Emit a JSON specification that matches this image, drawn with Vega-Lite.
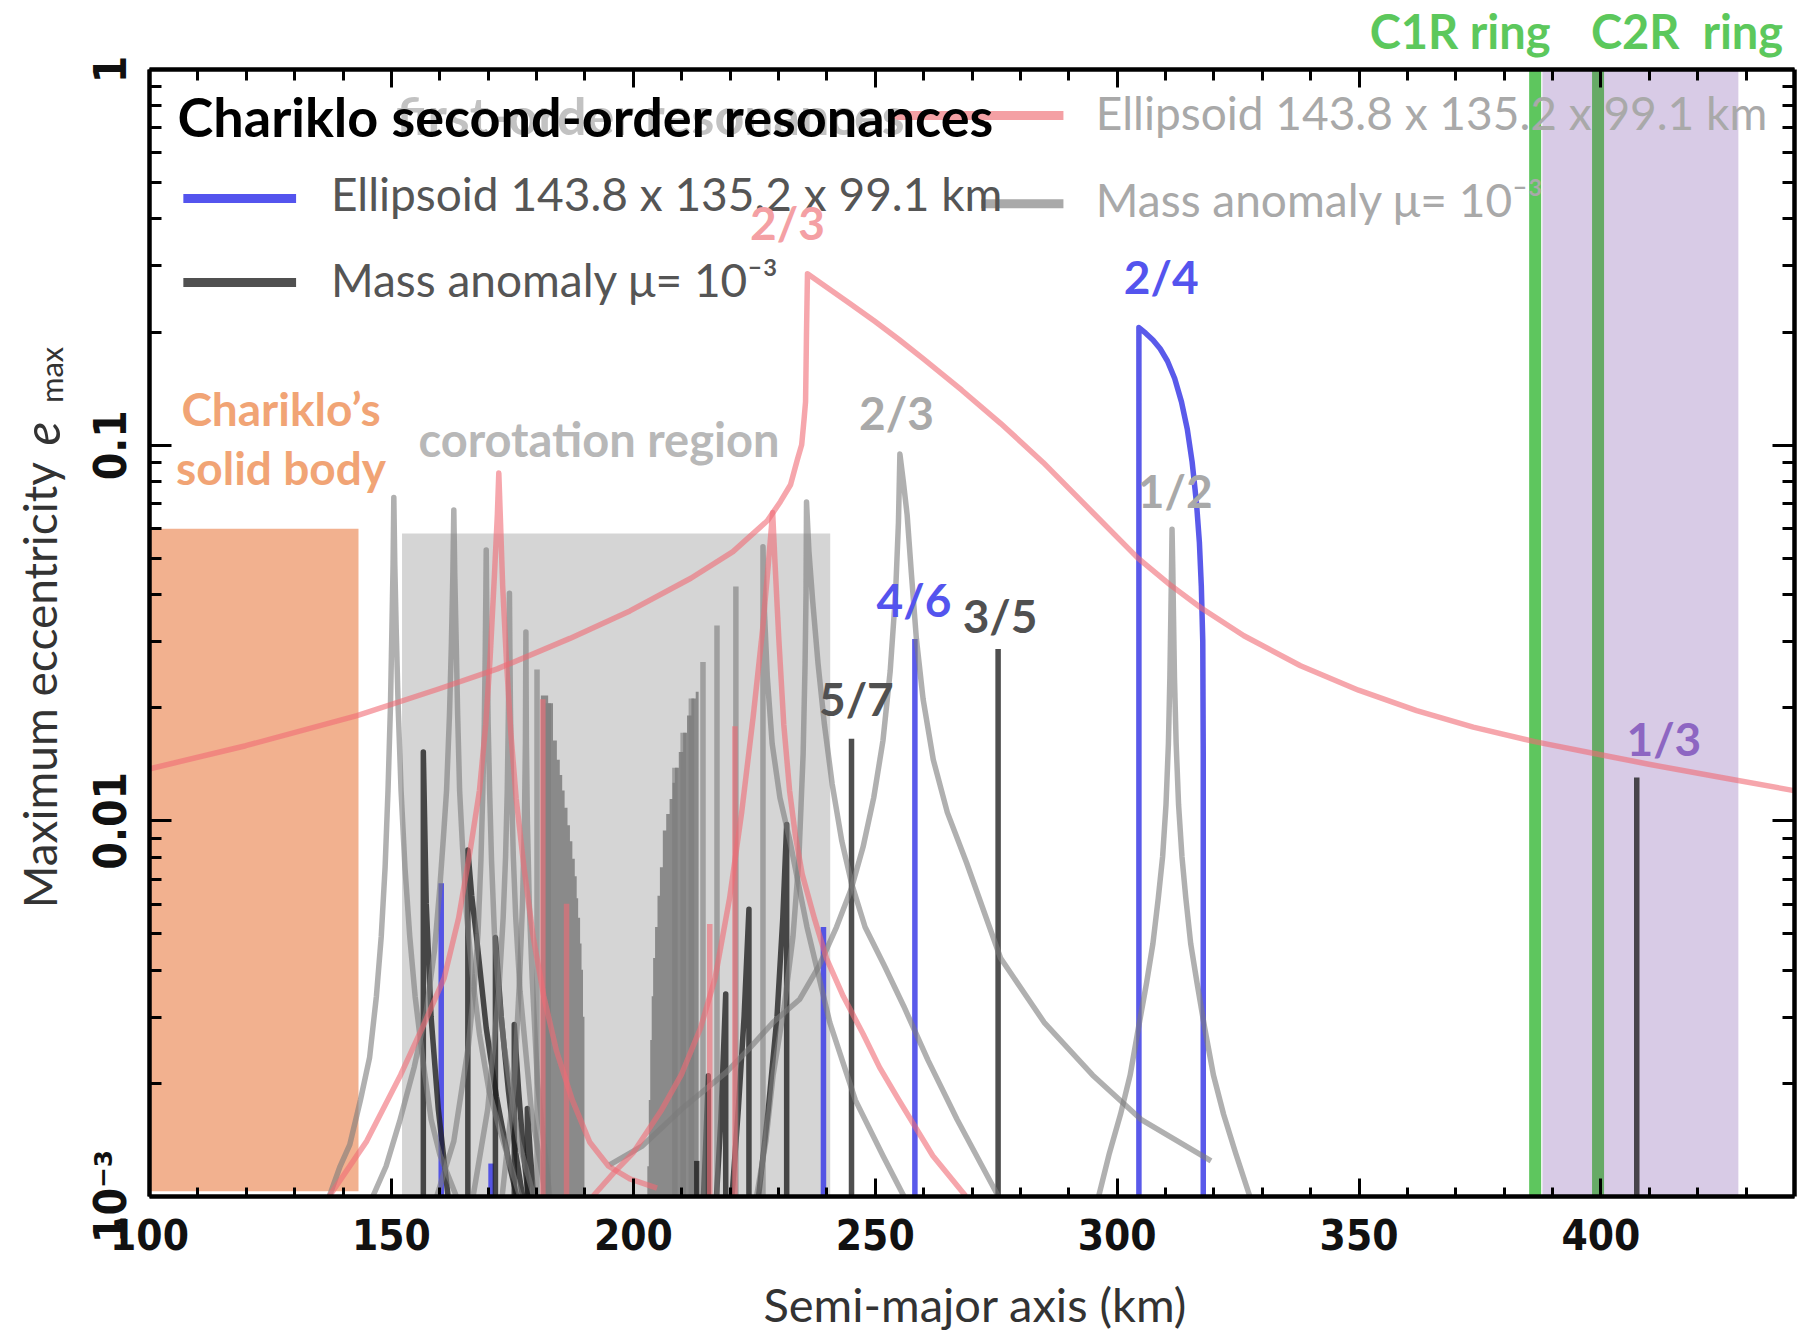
{
  "$schema": "https://vega.github.io/schema/vega-lite/v6.json",
  "width": 1645,
  "height": 1127,
  "autosize": {"type": "none"},
  "padding": {"left": 149, "top": 69, "right": 9, "bottom": 140},
  "background": "white",
  "config": {"view": {"stroke": null}, "axis": {"grid": false}},
  "resolve": {"axis": {"x": "independent", "y": "independent"}},
  "datasets": {
    "zones": [
      {"zone": "body", "a1": 100, "a2": 143.3, "e1": 0.00103, "e2": 0.0597},
      {"zone": "corotation", "a1": 152.3, "a2": 240.8, "e1": 0.001, "e2": 0.058},
      {"zone": "rings", "a1": 388, "a2": 428.5, "e1": 0.001, "e2": 1}
    ],
    "rings": [
      {"ring": "C1R", "a": 386.5},
      {"ring": "C2R", "a": 399.5}
    ],
    "fills": [
      {"c": "F1", "a": 181.0, "e": 0.0215}, {"c": "F1", "a": 182.5, "e": 0.0205}, {"c": "F1", "a": 183.5, "e": 0.0163},
      {"c": "F1", "a": 184.3, "e": 0.0145}, {"c": "F1", "a": 184.9, "e": 0.0132}, {"c": "F1", "a": 185.4, "e": 0.012},
      {"c": "F1", "a": 185.9, "e": 0.0108}, {"c": "F1", "a": 186.5, "e": 0.0097}, {"c": "F1", "a": 187.0, "e": 0.0088},
      {"c": "F1", "a": 187.5, "e": 0.0079}, {"c": "F1", "a": 188.0, "e": 0.0071}, {"c": "F1", "a": 188.4, "e": 0.0062},
      {"c": "F1", "a": 188.7, "e": 0.0055}, {"c": "F1", "a": 189.1, "e": 0.0047}, {"c": "F1", "a": 189.4, "e": 0.004},
      {"c": "F1", "a": 189.7, "e": 0.003}, {"c": "F1", "a": 190.0, "e": 0.001},
      {"c": "F2", "a": 203.0, "e": 0.0012}, {"c": "F2", "a": 203.3, "e": 0.0018}, {"c": "F2", "a": 203.6, "e": 0.0026},
      {"c": "F2", "a": 203.9, "e": 0.0034}, {"c": "F2", "a": 204.2, "e": 0.0043}, {"c": "F2", "a": 204.6, "e": 0.0052},
      {"c": "F2", "a": 205.1, "e": 0.0063}, {"c": "F2", "a": 205.6, "e": 0.0075}, {"c": "F2", "a": 206.2, "e": 0.0094},
      {"c": "F2", "a": 206.9, "e": 0.0104}, {"c": "F2", "a": 207.6, "e": 0.0114}, {"c": "F2", "a": 208.2, "e": 0.0126},
      {"c": "F2", "a": 208.7, "e": 0.0138}, {"c": "F2", "a": 209.5, "e": 0.0152}, {"c": "F2", "a": 210.4, "e": 0.0171},
      {"c": "F2", "a": 211.2, "e": 0.019}, {"c": "F2", "a": 212.1, "e": 0.0211}, {"c": "F2", "a": 213.0, "e": 0.022},
      {"c": "F2", "a": 213.6, "e": 0.001}
    ],
    "curves": [
      {"c": "P0", "fam": "p1", "a": 100, "e": 0.0137}, {"c": "P0", "fam": "p1", "a": 120, "e": 0.0158},
      {"c": "P0", "fam": "p1", "a": 143, "e": 0.019}, {"c": "P0", "fam": "p1", "a": 160, "e": 0.0224},
      {"c": "P0", "fam": "p1", "a": 172, "e": 0.0253}, {"c": "P0", "fam": "p1", "a": 187, "e": 0.0305},
      {"c": "P0", "fam": "p1", "a": 199.4, "e": 0.0361}, {"c": "P0", "fam": "p1", "a": 212, "e": 0.0441},
      {"c": "P0", "fam": "p1", "a": 220.7, "e": 0.0519}, {"c": "P0", "fam": "p1", "a": 227.8, "e": 0.0627},
      {"c": "P0", "fam": "p1", "a": 230.5, "e": 0.0705}, {"c": "P0", "fam": "p1", "a": 232.6, "e": 0.0782},
      {"c": "P0", "fam": "p1", "a": 234, "e": 0.0912}, {"c": "P0", "fam": "p1", "a": 234.9, "e": 0.1},
      {"c": "P0", "fam": "p1", "a": 235.4, "e": 0.117}, {"c": "P0", "fam": "p1", "a": 235.7, "e": 0.13},
      {"c": "P0", "fam": "p1", "a": 235.8, "e": 0.16}, {"c": "P0", "fam": "p1", "a": 235.9, "e": 0.2},
      {"c": "P0", "fam": "p1", "a": 236.0, "e": 0.24}, {"c": "P0", "fam": "p1", "a": 236.1, "e": 0.285},
      {"c": "P0", "fam": "p1", "a": 240, "e": 0.263}, {"c": "P0", "fam": "p1", "a": 245, "e": 0.237},
      {"c": "P0", "fam": "p1", "a": 250, "e": 0.213}, {"c": "P0", "fam": "p1", "a": 255, "e": 0.1905},
      {"c": "P0", "fam": "p1", "a": 260, "e": 0.1694}, {"c": "P0", "fam": "p1", "a": 268, "e": 0.1396},
      {"c": "P0", "fam": "p1", "a": 276, "e": 0.114}, {"c": "P0", "fam": "p1", "a": 284.8, "e": 0.0897},
      {"c": "P0", "fam": "p1", "a": 295, "e": 0.0661}, {"c": "P0", "fam": "p1", "a": 304.4, "e": 0.0499},
      {"c": "P0", "fam": "p1", "a": 311, "e": 0.0424}, {"c": "P0", "fam": "p1", "a": 317.4, "e": 0.0368},
      {"c": "P0", "fam": "p1", "a": 326.3, "e": 0.031}, {"c": "P0", "fam": "p1", "a": 338, "e": 0.0258},
      {"c": "P0", "fam": "p1", "a": 350, "e": 0.0222}, {"c": "P0", "fam": "p1", "a": 362, "e": 0.0196},
      {"c": "P0", "fam": "p1", "a": 373.7, "e": 0.0177}, {"c": "P0", "fam": "p1", "a": 386.4, "e": 0.0162},
      {"c": "P0", "fam": "p1", "a": 399.5, "e": 0.015}, {"c": "P0", "fam": "p1", "a": 410, "e": 0.0141},
      {"c": "P0", "fam": "p1", "a": 425, "e": 0.013}, {"c": "P0", "fam": "p1", "a": 440, "e": 0.012},

      {"c": "P2", "fam": "p1", "a": 137.3, "e": 0.001}, {"c": "P2", "fam": "p1", "a": 145, "e": 0.0014},
      {"c": "P2", "fam": "p1", "a": 152, "e": 0.0021}, {"c": "P2", "fam": "p1", "a": 157, "e": 0.0029},
      {"c": "P2", "fam": "p1", "a": 161, "e": 0.0038}, {"c": "P2", "fam": "p1", "a": 164, "e": 0.0055},
      {"c": "P2", "fam": "p1", "a": 166.5, "e": 0.0085}, {"c": "P2", "fam": "p1", "a": 168.3, "e": 0.012},
      {"c": "P2", "fam": "p1", "a": 169.6, "e": 0.018}, {"c": "P2", "fam": "p1", "a": 170.5, "e": 0.027},
      {"c": "P2", "fam": "p1", "a": 171.4, "e": 0.045}, {"c": "P2", "fam": "p1", "a": 172, "e": 0.065},
      {"c": "P2", "fam": "p1", "a": 172.3, "e": 0.084}, {"c": "P2", "fam": "p1", "a": 172.6, "e": 0.065},
      {"c": "P2", "fam": "p1", "a": 173.1, "e": 0.042}, {"c": "P2", "fam": "p1", "a": 173.9, "e": 0.0263},
      {"c": "P2", "fam": "p1", "a": 174.8, "e": 0.017}, {"c": "P2", "fam": "p1", "a": 175.9, "e": 0.0114},
      {"c": "P2", "fam": "p1", "a": 177.5, "e": 0.0075}, {"c": "P2", "fam": "p1", "a": 179.4, "e": 0.0049},
      {"c": "P2", "fam": "p1", "a": 181.6, "e": 0.0034}, {"c": "P2", "fam": "p1", "a": 184.2, "e": 0.00244},
      {"c": "P2", "fam": "p1", "a": 187.5, "e": 0.0018}, {"c": "P2", "fam": "p1", "a": 191.1, "e": 0.00139},
      {"c": "P2", "fam": "p1", "a": 195, "e": 0.0012}, {"c": "P2", "fam": "p1", "a": 199.4, "e": 0.00111},
      {"c": "P2", "fam": "p1", "a": 205, "e": 0.00105},

      {"c": "P3", "fam": "p1", "a": 191.8, "e": 0.001}, {"c": "P3", "fam": "p1", "a": 196, "e": 0.00115},
      {"c": "P3", "fam": "p1", "a": 200, "e": 0.0013}, {"c": "P3", "fam": "p1", "a": 206, "e": 0.0017},
      {"c": "P3", "fam": "p1", "a": 210, "e": 0.0021}, {"c": "P3", "fam": "p1", "a": 214, "e": 0.0028},
      {"c": "P3", "fam": "p1", "a": 217, "e": 0.0038}, {"c": "P3", "fam": "p1", "a": 220, "e": 0.0062},
      {"c": "P3", "fam": "p1", "a": 222.5, "e": 0.0105}, {"c": "P3", "fam": "p1", "a": 224.9, "e": 0.019},
      {"c": "P3", "fam": "p1", "a": 226.8, "e": 0.032}, {"c": "P3", "fam": "p1", "a": 228, "e": 0.048},
      {"c": "P3", "fam": "p1", "a": 228.9, "e": 0.066}, {"c": "P3", "fam": "p1", "a": 229.4, "e": 0.048},
      {"c": "P3", "fam": "p1", "a": 230.2, "e": 0.03}, {"c": "P3", "fam": "p1", "a": 231.2, "e": 0.018},
      {"c": "P3", "fam": "p1", "a": 232.4, "e": 0.012}, {"c": "P3", "fam": "p1", "a": 233.6, "e": 0.0091},
      {"c": "P3", "fam": "p1", "a": 235, "e": 0.0072}, {"c": "P3", "fam": "p1", "a": 237.5, "e": 0.0055},
      {"c": "P3", "fam": "p1", "a": 240, "e": 0.0043}, {"c": "P3", "fam": "p1", "a": 243.5, "e": 0.0034},
      {"c": "P3", "fam": "p1", "a": 247.6, "e": 0.0027}, {"c": "P3", "fam": "p1", "a": 251, "e": 0.0022},
      {"c": "P3", "fam": "p1", "a": 255, "e": 0.0018}, {"c": "P3", "fam": "p1", "a": 262, "e": 0.00128},
      {"c": "P3", "fam": "p1", "a": 268.8, "e": 0.001},

      {"c": "P4", "fam": "p1", "a": 181.4, "e": 0.001}, {"c": "P4", "fam": "p1", "a": 181.4, "e": 0.021},
      {"c": "P5", "fam": "p1", "a": 186.3, "e": 0.001}, {"c": "P5", "fam": "p1", "a": 186.3, "e": 0.006},
      {"c": "P6", "fam": "p1", "a": 215.9, "e": 0.001}, {"c": "P6", "fam": "p1", "a": 215.9, "e": 0.0053},
      {"c": "P7", "fam": "p1", "a": 221.1, "e": 0.001}, {"c": "P7", "fam": "p1", "a": 221.1, "e": 0.0178},

      {"c": "G1", "fam": "g1", "a": 137.3, "e": 0.001}, {"c": "G1", "fam": "g1", "a": 139.5, "e": 0.0012},
      {"c": "G1", "fam": "g1", "a": 141.5, "e": 0.00137}, {"c": "G1", "fam": "g1", "a": 143.7, "e": 0.0018},
      {"c": "G1", "fam": "g1", "a": 145.6, "e": 0.00234}, {"c": "G1", "fam": "g1", "a": 147, "e": 0.0034},
      {"c": "G1", "fam": "g1", "a": 148, "e": 0.0049}, {"c": "G1", "fam": "g1", "a": 148.8, "e": 0.0075},
      {"c": "G1", "fam": "g1", "a": 149.4, "e": 0.012}, {"c": "G1", "fam": "g1", "a": 149.9, "e": 0.02},
      {"c": "G1", "fam": "g1", "a": 150.2, "e": 0.032}, {"c": "G1", "fam": "g1", "a": 150.45, "e": 0.048},
      {"c": "G1", "fam": "g1", "a": 150.6, "e": 0.0723}, {"c": "G1", "fam": "g1", "a": 150.8, "e": 0.048},
      {"c": "G1", "fam": "g1", "a": 151.1, "e": 0.032}, {"c": "G1", "fam": "g1", "a": 151.5, "e": 0.02},
      {"c": "G1", "fam": "g1", "a": 152.1, "e": 0.012}, {"c": "G1", "fam": "g1", "a": 152.9, "e": 0.0075},
      {"c": "G1", "fam": "g1", "a": 153.9, "e": 0.0049}, {"c": "G1", "fam": "g1", "a": 155, "e": 0.0034},
      {"c": "G1", "fam": "g1", "a": 156.6, "e": 0.0023}, {"c": "G1", "fam": "g1", "a": 158.3, "e": 0.0016},
      {"c": "G1", "fam": "g1", "a": 160.1, "e": 0.00129}, {"c": "G1", "fam": "g1", "a": 163.5, "e": 0.001},

      {"c": "G2", "fam": "g1", "a": 146.3, "e": 0.001}, {"c": "G2", "fam": "g1", "a": 149, "e": 0.0012},
      {"c": "G2", "fam": "g1", "a": 151.8, "e": 0.00158}, {"c": "G2", "fam": "g1", "a": 154.8, "e": 0.0022},
      {"c": "G2", "fam": "g1", "a": 157.3, "e": 0.0031}, {"c": "G2", "fam": "g1", "a": 159, "e": 0.0045},
      {"c": "G2", "fam": "g1", "a": 160.1, "e": 0.0066}, {"c": "G2", "fam": "g1", "a": 160.9, "e": 0.0092},
      {"c": "G2", "fam": "g1", "a": 161.5, "e": 0.012}, {"c": "G2", "fam": "g1", "a": 162.1, "e": 0.019},
      {"c": "G2", "fam": "g1", "a": 162.5, "e": 0.0295}, {"c": "G2", "fam": "g1", "a": 162.8, "e": 0.045},
      {"c": "G2", "fam": "g1", "a": 163.0, "e": 0.067}, {"c": "G2", "fam": "g1", "a": 163.2, "e": 0.045},
      {"c": "G2", "fam": "g1", "a": 163.5, "e": 0.0295}, {"c": "G2", "fam": "g1", "a": 163.8, "e": 0.019},
      {"c": "G2", "fam": "g1", "a": 164.2, "e": 0.012}, {"c": "G2", "fam": "g1", "a": 164.8, "e": 0.0085},
      {"c": "G2", "fam": "g1", "a": 165.6, "e": 0.0057}, {"c": "G2", "fam": "g1", "a": 166.8, "e": 0.0039},
      {"c": "G2", "fam": "g1", "a": 168.3, "e": 0.0027}, {"c": "G2", "fam": "g1", "a": 170.3, "e": 0.0019},
      {"c": "G2", "fam": "g1", "a": 172.5, "e": 0.0015}, {"c": "G2", "fam": "g1", "a": 176.6, "e": 0.001},

      {"c": "G3", "fam": "g1", "a": 159.5, "e": 0.001}, {"c": "G3", "fam": "g1", "a": 163, "e": 0.0014},
      {"c": "G3", "fam": "g1", "a": 166, "e": 0.0025}, {"c": "G3", "fam": "g1", "a": 167.2, "e": 0.0036},
      {"c": "G3", "fam": "g1", "a": 168, "e": 0.005}, {"c": "G3", "fam": "g1", "a": 168.6, "e": 0.0078},
      {"c": "G3", "fam": "g1", "a": 169, "e": 0.012}, {"c": "G3", "fam": "g1", "a": 169.3, "e": 0.018},
      {"c": "G3", "fam": "g1", "a": 169.5, "e": 0.028}, {"c": "G3", "fam": "g1", "a": 169.62, "e": 0.04},
      {"c": "G3", "fam": "g1", "a": 169.7, "e": 0.0524}, {"c": "G3", "fam": "g1", "a": 169.78, "e": 0.04},
      {"c": "G3", "fam": "g1", "a": 169.9, "e": 0.028}, {"c": "G3", "fam": "g1", "a": 170.1, "e": 0.018},
      {"c": "G3", "fam": "g1", "a": 170.4, "e": 0.012}, {"c": "G3", "fam": "g1", "a": 170.8, "e": 0.0078},
      {"c": "G3", "fam": "g1", "a": 171.4, "e": 0.005}, {"c": "G3", "fam": "g1", "a": 172.2, "e": 0.0036},
      {"c": "G3", "fam": "g1", "a": 173.4, "e": 0.0025}, {"c": "G3", "fam": "g1", "a": 176.4, "e": 0.0014},
      {"c": "G3", "fam": "g1", "a": 179.5, "e": 0.001},

      {"c": "G4", "fam": "g1", "a": 167, "e": 0.001}, {"c": "G4", "fam": "g1", "a": 170, "e": 0.0017},
      {"c": "G4", "fam": "g1", "a": 172.3, "e": 0.0035}, {"c": "G4", "fam": "g1", "a": 173.2, "e": 0.0055},
      {"c": "G4", "fam": "g1", "a": 173.7, "e": 0.008}, {"c": "G4", "fam": "g1", "a": 174.05, "e": 0.012},
      {"c": "G4", "fam": "g1", "a": 174.3, "e": 0.02}, {"c": "G4", "fam": "g1", "a": 174.42, "e": 0.029},
      {"c": "G4", "fam": "g1", "a": 174.5, "e": 0.0402}, {"c": "G4", "fam": "g1", "a": 174.58, "e": 0.029},
      {"c": "G4", "fam": "g1", "a": 174.7, "e": 0.02}, {"c": "G4", "fam": "g1", "a": 174.95, "e": 0.012},
      {"c": "G4", "fam": "g1", "a": 175.3, "e": 0.008}, {"c": "G4", "fam": "g1", "a": 175.8, "e": 0.0055},
      {"c": "G4", "fam": "g1", "a": 176.7, "e": 0.0035}, {"c": "G4", "fam": "g1", "a": 179, "e": 0.0017},
      {"c": "G4", "fam": "g1", "a": 182, "e": 0.001},

      {"c": "G5", "fam": "g1", "a": 173, "e": 0.001}, {"c": "G5", "fam": "g1", "a": 175.5, "e": 0.002},
      {"c": "G5", "fam": "g1", "a": 176.6, "e": 0.0038}, {"c": "G5", "fam": "g1", "a": 177.2, "e": 0.006},
      {"c": "G5", "fam": "g1", "a": 177.6, "e": 0.01}, {"c": "G5", "fam": "g1", "a": 177.8, "e": 0.016},
      {"c": "G5", "fam": "g1", "a": 177.9, "e": 0.0317}, {"c": "G5", "fam": "g1", "a": 178.0, "e": 0.016},
      {"c": "G5", "fam": "g1", "a": 178.2, "e": 0.01}, {"c": "G5", "fam": "g1", "a": 178.6, "e": 0.006},
      {"c": "G5", "fam": "g1", "a": 179.2, "e": 0.0038}, {"c": "G5", "fam": "g1", "a": 180.3, "e": 0.002},
      {"c": "G5", "fam": "g1", "a": 182.8, "e": 0.001},

      {"c": "G6", "fam": "g1", "a": 180.2, "e": 0.001}, {"c": "G6", "fam": "g1", "a": 180.2, "e": 0.0252},
      {"c": "G7", "fam": "g1", "a": 182.5, "e": 0.001}, {"c": "G7", "fam": "g1", "a": 182.5, "e": 0.0205},
      {"c": "G8", "fam": "g1", "a": 208.7, "e": 0.001}, {"c": "G8", "fam": "g1", "a": 208.7, "e": 0.0138},
      {"c": "G9", "fam": "g1", "a": 210.4, "e": 0.001}, {"c": "G9", "fam": "g1", "a": 210.4, "e": 0.0171},
      {"c": "G10", "fam": "g1", "a": 212.1, "e": 0.001}, {"c": "G10", "fam": "g1", "a": 212.1, "e": 0.0211},
      {"c": "G11", "fam": "g1", "a": 214.5, "e": 0.001}, {"c": "G11", "fam": "g1", "a": 214.5, "e": 0.0264},
      {"c": "G12", "fam": "g1", "a": 217.4, "e": 0.001}, {"c": "G12", "fam": "g1", "a": 217.4, "e": 0.033},
      {"c": "G13", "fam": "g1", "a": 221.3, "e": 0.001}, {"c": "G13", "fam": "g1", "a": 221.3, "e": 0.0419},

      {"c": "G14", "fam": "g1", "a": 226.9, "e": 0.001}, {"c": "G14", "fam": "g1", "a": 226.9, "e": 0.0535},
      {"c": "G14", "fam": "g1", "a": 227.2, "e": 0.036}, {"c": "G14", "fam": "g1", "a": 227.8, "e": 0.024},
      {"c": "G14", "fam": "g1", "a": 228.8, "e": 0.016}, {"c": "G14", "fam": "g1", "a": 230.4, "e": 0.0115},
      {"c": "G14", "fam": "g1", "a": 232.4, "e": 0.0089}, {"c": "G14", "fam": "g1", "a": 236, "e": 0.0052},
      {"c": "G14", "fam": "g1", "a": 240.7, "e": 0.0029}, {"c": "G14", "fam": "g1", "a": 246, "e": 0.0018},
      {"c": "G14", "fam": "g1", "a": 251.7, "e": 0.00128}, {"c": "G14", "fam": "g1", "a": 256, "e": 0.001},

      {"c": "G15", "fam": "g1", "a": 225.6, "e": 0.001}, {"c": "G15", "fam": "g1", "a": 227.5, "e": 0.0014},
      {"c": "G15", "fam": "g1", "a": 229, "e": 0.0021}, {"c": "G15", "fam": "g1", "a": 231.3, "e": 0.0032},
      {"c": "G15", "fam": "g1", "a": 233.1, "e": 0.0049}, {"c": "G15", "fam": "g1", "a": 234.3, "e": 0.0078},
      {"c": "G15", "fam": "g1", "a": 235.2, "e": 0.015}, {"c": "G15", "fam": "g1", "a": 235.6, "e": 0.026},
      {"c": "G15", "fam": "g1", "a": 235.8, "e": 0.04}, {"c": "G15", "fam": "g1", "a": 235.9, "e": 0.0704},
      {"c": "G15", "fam": "g1", "a": 236.4, "e": 0.052}, {"c": "G15", "fam": "g1", "a": 237.2, "e": 0.038},
      {"c": "G15", "fam": "g1", "a": 238.3, "e": 0.026}, {"c": "G15", "fam": "g1", "a": 239.6, "e": 0.018},
      {"c": "G15", "fam": "g1", "a": 241.2, "e": 0.0125}, {"c": "G15", "fam": "g1", "a": 243.2, "e": 0.0088},
      {"c": "G15", "fam": "g1", "a": 245.2, "e": 0.0068}, {"c": "G15", "fam": "g1", "a": 248, "e": 0.0052},
      {"c": "G15", "fam": "g1", "a": 252, "e": 0.0041}, {"c": "G15", "fam": "g1", "a": 256, "e": 0.0032},
      {"c": "G15", "fam": "g1", "a": 261, "e": 0.0023}, {"c": "G15", "fam": "g1", "a": 267, "e": 0.0016},
      {"c": "G15", "fam": "g1", "a": 275.5, "e": 0.001},

      {"c": "G16", "fam": "g1", "a": 195.2, "e": 0.00121}, {"c": "G16", "fam": "g1", "a": 202, "e": 0.00136},
      {"c": "G16", "fam": "g1", "a": 210, "e": 0.0017}, {"c": "G16", "fam": "g1", "a": 219.4, "e": 0.00214},
      {"c": "G16", "fam": "g1", "a": 224.2, "e": 0.00248}, {"c": "G16", "fam": "g1", "a": 229, "e": 0.0029},
      {"c": "G16", "fam": "g1", "a": 234.5, "e": 0.00334}, {"c": "G16", "fam": "g1", "a": 238.5, "e": 0.0041},
      {"c": "G16", "fam": "g1", "a": 242.1, "e": 0.0052}, {"c": "G16", "fam": "g1", "a": 245.2, "e": 0.0066},
      {"c": "G16", "fam": "g1", "a": 247.6, "e": 0.0085}, {"c": "G16", "fam": "g1", "a": 249.8, "e": 0.0115},
      {"c": "G16", "fam": "g1", "a": 251.7, "e": 0.0163}, {"c": "G16", "fam": "g1", "a": 253.2, "e": 0.025},
      {"c": "G16", "fam": "g1", "a": 254.3, "e": 0.04}, {"c": "G16", "fam": "g1", "a": 254.9, "e": 0.062},
      {"c": "G16", "fam": "g1", "a": 255.2, "e": 0.0944}, {"c": "G16", "fam": "g1", "a": 255.9, "e": 0.08},
      {"c": "G16", "fam": "g1", "a": 256.7, "e": 0.065}, {"c": "G16", "fam": "g1", "a": 257.6, "e": 0.045},
      {"c": "G16", "fam": "g1", "a": 258.6, "e": 0.0305}, {"c": "G16", "fam": "g1", "a": 260, "e": 0.021},
      {"c": "G16", "fam": "g1", "a": 262.1, "e": 0.0145}, {"c": "G16", "fam": "g1", "a": 265, "e": 0.0105},
      {"c": "G16", "fam": "g1", "a": 269, "e": 0.0077}, {"c": "G16", "fam": "g1", "a": 276, "e": 0.0043},
      {"c": "G16", "fam": "g1", "a": 285, "e": 0.0029}, {"c": "G16", "fam": "g1", "a": 295, "e": 0.0021},
      {"c": "G16", "fam": "g1", "a": 305, "e": 0.0016}, {"c": "G16", "fam": "g1", "a": 319.5, "e": 0.00124},

      {"c": "G17", "fam": "g1", "a": 296.3, "e": 0.001}, {"c": "G17", "fam": "g1", "a": 298.5, "e": 0.0013},
      {"c": "G17", "fam": "g1", "a": 300.8, "e": 0.00165}, {"c": "G17", "fam": "g1", "a": 302.8, "e": 0.0021},
      {"c": "G17", "fam": "g1", "a": 304.5, "e": 0.0028}, {"c": "G17", "fam": "g1", "a": 306.2, "e": 0.0037},
      {"c": "G17", "fam": "g1", "a": 307.5, "e": 0.0047}, {"c": "G17", "fam": "g1", "a": 308.6, "e": 0.0062},
      {"c": "G17", "fam": "g1", "a": 309.5, "e": 0.008}, {"c": "G17", "fam": "g1", "a": 310.2, "e": 0.011},
      {"c": "G17", "fam": "g1", "a": 310.7, "e": 0.016}, {"c": "G17", "fam": "g1", "a": 311.0, "e": 0.024},
      {"c": "G17", "fam": "g1", "a": 311.2, "e": 0.035}, {"c": "G17", "fam": "g1", "a": 311.35, "e": 0.047},
      {"c": "G17", "fam": "g1", "a": 311.45, "e": 0.0595}, {"c": "G17", "fam": "g1", "a": 311.6, "e": 0.047},
      {"c": "G17", "fam": "g1", "a": 311.75, "e": 0.035}, {"c": "G17", "fam": "g1", "a": 311.95, "e": 0.024},
      {"c": "G17", "fam": "g1", "a": 312.3, "e": 0.016}, {"c": "G17", "fam": "g1", "a": 312.8, "e": 0.011},
      {"c": "G17", "fam": "g1", "a": 313.5, "e": 0.008}, {"c": "G17", "fam": "g1", "a": 314.3, "e": 0.0062},
      {"c": "G17", "fam": "g1", "a": 315.3, "e": 0.0047}, {"c": "G17", "fam": "g1", "a": 316.6, "e": 0.0037},
      {"c": "G17", "fam": "g1", "a": 318.2, "e": 0.0028}, {"c": "G17", "fam": "g1", "a": 320, "e": 0.0021},
      {"c": "G17", "fam": "g1", "a": 322.1, "e": 0.00165}, {"c": "G17", "fam": "g1", "a": 324.6, "e": 0.0013},
      {"c": "G17", "fam": "g1", "a": 327.5, "e": 0.001},

      {"c": "K1", "fam": "k2", "a": 156.7, "e": 0.001}, {"c": "K1", "fam": "k2", "a": 156.7, "e": 0.0152},
      {"c": "K1", "fam": "k2", "a": 157.3, "e": 0.006}, {"c": "K1", "fam": "k2", "a": 158.3, "e": 0.003},
      {"c": "K1", "fam": "k2", "a": 159.8, "e": 0.0017}, {"c": "K1", "fam": "k2", "a": 161.8, "e": 0.001},
      {"c": "K2", "fam": "k2", "a": 165.9, "e": 0.001}, {"c": "K2", "fam": "k2", "a": 165.9, "e": 0.00834},
      {"c": "K2", "fam": "k2", "a": 166.7, "e": 0.0063}, {"c": "K2", "fam": "k2", "a": 167.7, "e": 0.00488},
      {"c": "K2", "fam": "k2", "a": 169.7, "e": 0.0028}, {"c": "K2", "fam": "k2", "a": 171.8, "e": 0.00184},
      {"c": "K2", "fam": "k2", "a": 174.5, "e": 0.00121}, {"c": "K2", "fam": "k2", "a": 176, "e": 0.001},
      {"c": "K3", "fam": "k2", "a": 171.6, "e": 0.001}, {"c": "K3", "fam": "k2", "a": 171.6, "e": 0.00488},
      {"c": "K3", "fam": "k2", "a": 172.8, "e": 0.003}, {"c": "K3", "fam": "k2", "a": 174.3, "e": 0.0019},
      {"c": "K3", "fam": "k2", "a": 175.8, "e": 0.0013}, {"c": "K3", "fam": "k2", "a": 177.2, "e": 0.001},
      {"c": "K4", "fam": "k2", "a": 175.5, "e": 0.001}, {"c": "K4", "fam": "k2", "a": 175.5, "e": 0.00286},
      {"c": "K4", "fam": "k2", "a": 176.4, "e": 0.0019}, {"c": "K4", "fam": "k2", "a": 177.4, "e": 0.0013},
      {"c": "K4", "fam": "k2", "a": 178.4, "e": 0.001},
      {"c": "K5", "fam": "k2", "a": 178.2, "e": 0.001}, {"c": "K5", "fam": "k2", "a": 178.2, "e": 0.00171},
      {"c": "K5", "fam": "k2", "a": 178.8, "e": 0.0013}, {"c": "K5", "fam": "k2", "a": 179.5, "e": 0.001},
      {"c": "K6", "fam": "k2", "a": 213.2, "e": 0.001}, {"c": "K6", "fam": "k2", "a": 213.2, "e": 0.00124},
      {"c": "K7", "fam": "k2", "a": 214.6, "e": 0.001}, {"c": "K7", "fam": "k2", "a": 215.0, "e": 0.0013},
      {"c": "K7", "fam": "k2", "a": 215.6, "e": 0.00209}, {"c": "K7", "fam": "k2", "a": 215.6, "e": 0.001},
      {"c": "K8", "fam": "k2", "a": 217.3, "e": 0.001}, {"c": "K8", "fam": "k2", "a": 218.2, "e": 0.0016},
      {"c": "K8", "fam": "k2", "a": 219.2, "e": 0.00345}, {"c": "K8", "fam": "k2", "a": 219.2, "e": 0.001},
      {"c": "K9", "fam": "k2", "a": 220.5, "e": 0.001}, {"c": "K9", "fam": "k2", "a": 221.8, "e": 0.0017},
      {"c": "K9", "fam": "k2", "a": 223.0, "e": 0.003}, {"c": "K9", "fam": "k2", "a": 224.0, "e": 0.0058},
      {"c": "K9", "fam": "k2", "a": 224.0, "e": 0.001},
      {"c": "K10", "fam": "k2", "a": 226, "e": 0.001}, {"c": "K10", "fam": "k2", "a": 228, "e": 0.0017},
      {"c": "K10", "fam": "k2", "a": 229.8, "e": 0.003}, {"c": "K10", "fam": "k2", "a": 231, "e": 0.0055},
      {"c": "K10", "fam": "k2", "a": 231.8, "e": 0.00975}, {"c": "K10", "fam": "k2", "a": 231.8, "e": 0.001},
      {"c": "K11", "fam": "k2", "a": 245.2, "e": 0.001}, {"c": "K11", "fam": "k2", "a": 245.2, "e": 0.0165},
      {"c": "K12", "fam": "k2", "a": 275.5, "e": 0.001}, {"c": "K12", "fam": "k2", "a": 275.5, "e": 0.0286},
      {"c": "K13", "fam": "k2", "a": 407.5, "e": 0.001}, {"c": "K13", "fam": "k2", "a": 407.5, "e": 0.013},

      {"c": "B1", "fam": "b2", "a": 160.4, "e": 0.001}, {"c": "B1", "fam": "b2", "a": 160.4, "e": 0.0068},
      {"c": "B2", "fam": "b2", "a": 170.7, "e": 0.001}, {"c": "B2", "fam": "b2", "a": 170.7, "e": 0.00122},
      {"c": "B3", "fam": "b2", "a": 239.4, "e": 0.001}, {"c": "B3", "fam": "b2", "a": 239.4, "e": 0.0052},
      {"c": "B4", "fam": "b2", "a": 258.3, "e": 0.001}, {"c": "B4", "fam": "b2", "a": 258.3, "e": 0.0304},
      {"c": "B5", "fam": "b2", "a": 304.6, "e": 0.001}, {"c": "B5", "fam": "b2", "a": 304.6, "e": 0.205},
      {"c": "B5", "fam": "b2", "a": 306, "e": 0.198}, {"c": "B5", "fam": "b2", "a": 307.5, "e": 0.19},
      {"c": "B5", "fam": "b2", "a": 309, "e": 0.18}, {"c": "B5", "fam": "b2", "a": 310.5, "e": 0.167},
      {"c": "B5", "fam": "b2", "a": 312, "e": 0.15}, {"c": "B5", "fam": "b2", "a": 313.4, "e": 0.13},
      {"c": "B5", "fam": "b2", "a": 314.6, "e": 0.11}, {"c": "B5", "fam": "b2", "a": 315.6, "e": 0.09},
      {"c": "B5", "fam": "b2", "a": 316.5, "e": 0.07}, {"c": "B5", "fam": "b2", "a": 317.1, "e": 0.055},
      {"c": "B5", "fam": "b2", "a": 317.5, "e": 0.042}, {"c": "B5", "fam": "b2", "a": 317.8, "e": 0.03},
      {"c": "B5", "fam": "b2", "a": 317.9, "e": 0.015}, {"c": "B5", "fam": "b2", "a": 317.9, "e": 0.001}
    ],
    "legend": [
      {"c": "L1", "fam": "b2", "a": 107.1, "e": 0.452}, {"c": "L1", "fam": "b2", "a": 130.4, "e": 0.452},
      {"c": "L2", "fam": "k2", "a": 107.1, "e": 0.27}, {"c": "L2", "fam": "k2", "a": 130.4, "e": 0.27},
      {"c": "L3", "fam": "p1", "a": 253, "e": 0.752}, {"c": "L3", "fam": "p1", "a": 289, "e": 0.752},
      {"c": "L4", "fam": "g1", "a": 272, "e": 0.438}, {"c": "L4", "fam": "g1", "a": 289, "e": 0.438}
    ],
    "labels": [
      {"t": "first-order resonances", "s": "bg", "a": 151.1, "e": 0.735},
      {"t": "Chariklo second-order resonances", "s": "title", "a": 105.9, "e": 0.728},
      {"t": "Ellipsoid 143.8 x 135.2 x 99.1 km", "s": "leg1", "a": 137.6, "e": 0.455},
      {"t": "Mass anomaly μ= 10⁻³", "s": "leg1", "a": 137.6, "e": 0.27},
      {"t": "Ellipsoid 143.8 x 135.2 x 99.1 km", "s": "leg2", "a": 295.7, "e": 0.75},
      {"t": "Mass anomaly μ= 10⁻³", "s": "leg2", "a": 295.7, "e": 0.439},
      {"t": "C1R ring", "s": "ring", "a": 371, "e": 1.235},
      {"t": "C2R\u00a0\u00a0ring", "s": "ring", "a": 417.9, "e": 1.235},
      {"t": "Chariklo’s", "s": "body", "a": 127.3, "e": 0.122},
      {"t": "solid body", "s": "body", "a": 127.3, "e": 0.0849},
      {"t": "corotation region", "s": "corot", "a": 193.0, "e": 0.101},
      {"t": "Maximum eccentricity", "s": "ytitle", "a": 78.1, "e": 0.00583},
      {"t": "e", "s": "ysym", "a": 78.6, "e": 0.0995},
      {"t": "max", "s": "ysub", "a": 80.3, "e": 0.129},
      {"t": "Semi-major axis (km)", "s": "xtitle", "a": 270.7, "e": 0.000502}
    ],
    "res": [
      {"t": "2/3", "fam": "p1", "a": 231.95, "e": 0.381},
      {"t": "2/4", "fam": "b2", "a": 309.2, "e": 0.275},
      {"t": "2/3", "fam": "g1", "a": 254.5, "e": 0.119},
      {"t": "1/2", "fam": "g1", "a": 312.1, "e": 0.0737},
      {"t": "4/6", "fam": "b2", "a": 258.1, "e": 0.038},
      {"t": "3/5", "fam": "k2", "a": 275.9, "e": 0.0344},
      {"t": "5/7", "fam": "k2", "a": 246.2, "e": 0.0207},
      {"t": "1/3", "fam": "x3", "a": 413.1, "e": 0.0162}
    ]
  },
  "layer": [
    {
      "data": {"name": "zones"},
      "transform": [{"filter": "datum.zone === 'rings'"}],
      "mark": {"type": "rect", "color": "#d8cbe6"},
      "encoding": {
        "x": {"field": "a1", "type": "quantitative", "scale": {"domain": [100, 440], "nice": false, "zero": false},
          "axis": {"orient": "bottom", "values": [100, 150, 200, 250, 300, 350, 400], "ticks": false, "domain": true, "domainColor": "#000", "domainWidth": 4.5,
            "labelFont": "'Liberation Sans Narrow', 'DejaVu Sans Condensed', 'Liberation Sans', sans-serif", "labelFontSize": 42, "labelFontWeight": "bold", "labelColor": "#111",
            "labelPadding": 20, "labelBaseline": "top", "labelAlign": "center", "labelFlush": false, "labelOverlap": false, "labelBound": false, "title": null, "zindex": 2}},
        "x2": {"field": "a2"},
        "y": {"field": "e2", "type": "quantitative", "scale": {"type": "log", "domain": [0.001, 1], "nice": false},
          "axis": {"orient": "left", "values": [1, 0.1, 0.01, 0.001], "ticks": false, "domain": true, "domainColor": "#000", "domainWidth": 4.5,
            "labelExpr": "datum.value >= 0.99 ? '1' : datum.value >= 0.099 ? '0.1' : datum.value >= 0.0099 ? '0.01' : '10⁻³'",
            "labelAngle": -90, "labelAlign": "center", "labelBaseline": "alphabetic", "labelPadding": 24,
            "labelFont": "'Liberation Sans Narrow', 'DejaVu Sans Condensed', 'Liberation Sans', sans-serif", "labelFontSize": 44, "labelFontWeight": "bold", "labelColor": "#111",
            "labelFlush": false, "labelOverlap": false, "labelBound": false, "title": null, "zindex": 2}},
        "y2": {"field": "e1"}
      }
    },
    {
      "data": {"name": "zones"},
      "transform": [{"filter": "datum.zone === 'body'"}],
      "mark": {"type": "rect", "color": "#f2b18f"},
      "encoding": {
        "x": {"field": "a1", "type": "quantitative",
          "axis": {"orient": "bottom", "values": [100, 150, 200, 250, 300, 350, 400], "ticks": true, "tickSize": -18, "tickWidth": 3, "tickColor": "#000", "domain": false, "labels": false, "title": null, "zindex": 2}},
        "x2": {"field": "a2"},
        "y": {"field": "e2", "type": "quantitative",
          "axis": {"orient": "left", "values": [1, 0.1, 0.01, 0.001], "ticks": true, "tickSize": -22, "tickWidth": 3, "tickColor": "#000", "domain": false, "labels": false, "title": null, "zindex": 2}},
        "y2": {"field": "e1"}
      }
    },
    {
      "data": {"name": "zones"},
      "transform": [{"filter": "datum.zone === 'corotation'"}],
      "mark": {"type": "rect", "color": "#d5d5d5"},
      "encoding": {
        "x": {"field": "a1", "type": "quantitative", "axis": null},
        "x2": {"field": "a2"},
        "y": {"field": "e2", "type": "quantitative", "axis": null},
        "y2": {"field": "e1"}
      }
    },
    {
      "data": {"name": "rings"},
      "transform": [{"filter": "datum.ring === 'C1R'"}],
      "mark": {"type": "rule", "color": "#5ec65e", "strokeWidth": 12},
      "encoding": {
        "x": {"field": "a", "type": "quantitative",
          "axis": {"orient": "bottom", "values": [110, 120, 130, 140, 160, 170, 180, 190, 210, 220, 230, 240, 260, 270, 280, 290, 310, 320, 330, 340, 360, 370, 380, 390, 410, 420, 430],
            "ticks": true, "tickSize": -9, "tickWidth": 3, "tickColor": "#000", "domain": false, "labels": false, "title": null, "zindex": 2}}
      }
    },
    {
      "data": {"name": "rings"},
      "transform": [{"filter": "datum.ring === 'C2R'"}],
      "mark": {"type": "rule", "color": "#66aa66", "strokeWidth": 12},
      "encoding": {
        "x": {"field": "a", "type": "quantitative", "axis": null}
      }
    },
    {
      "data": {"name": "fills"},
      "mark": {"type": "area", "color": "#8a8a8a", "interpolate": "step-after"},
      "encoding": {
        "x": {"field": "a", "type": "quantitative",
          "axis": {"orient": "top", "values": [100, 150, 200, 250, 300, 350, 400], "ticks": true, "tickSize": -18, "tickWidth": 3, "tickColor": "#000", "domain": true, "domainColor": "#000", "domainWidth": 4.5, "labels": false, "title": null, "zindex": 2}},
        "y": {"field": "e", "type": "quantitative", "stack": null,
          "axis": {"orient": "right", "values": [1, 0.1, 0.01, 0.001], "ticks": true, "tickSize": -22, "tickWidth": 3, "tickColor": "#000", "domain": true, "domainColor": "#000", "domainWidth": 4.5, "labels": false, "title": null, "zindex": 2}},
        "y2": {"datum": 0.001},
        "detail": {"field": "c"}
      }
    },
    {
      "data": {"name": "curves"},
      "transform": [{"filter": "datum.fam === 'b2'"}],
      "mark": {"type": "line", "color": "#3d3de6", "opacity": 0.85, "strokeWidth": 5.5, "strokeJoin": "round"},
      "encoding": {
        "x": {"field": "a", "type": "quantitative",
          "axis": {"orient": "top", "values": [110, 120, 130, 140, 160, 170, 180, 190, 210, 220, 230, 240, 260, 270, 280, 290, 310, 320, 330, 340, 360, 370, 380, 390, 410, 420, 430],
            "ticks": true, "tickSize": -11, "tickWidth": 3, "tickColor": "#000", "domain": false, "labels": false, "title": null, "zindex": 2}},
        "y": {"field": "e", "type": "quantitative",
          "axis": {"orient": "right", "values": [0.002, 0.003, 0.004, 0.005, 0.006, 0.007, 0.008, 0.009, 0.02, 0.03, 0.04, 0.05, 0.06, 0.07, 0.08, 0.09, 0.2, 0.3, 0.4, 0.5, 0.6, 0.7, 0.8, 0.9],
            "ticks": true, "tickSize": -12, "tickWidth": 3, "tickColor": "#000", "domain": false, "labels": false, "title": null, "zindex": 2}},
        "detail": {"field": "c"},
        "order": {"value": null}
      }
    },
    {
      "data": {"name": "curves"},
      "transform": [{"filter": "datum.fam === 'k2'"}],
      "mark": {"type": "line", "color": "#1e1e1e", "opacity": 0.78, "strokeWidth": 5.5, "strokeJoin": "round"},
      "encoding": {
        "x": {"field": "a", "type": "quantitative", "axis": null},
        "y": {"field": "e", "type": "quantitative",
          "axis": {"orient": "left", "values": [0.002, 0.003, 0.004, 0.005, 0.006, 0.007, 0.008, 0.009, 0.02, 0.03, 0.04, 0.05, 0.06, 0.07, 0.08, 0.09, 0.2, 0.3, 0.4, 0.5, 0.6, 0.7, 0.8, 0.9],
            "ticks": true, "tickSize": -12, "tickWidth": 3, "tickColor": "#000", "domain": false, "labels": false, "title": null, "zindex": 2}},
        "detail": {"field": "c"},
        "order": {"value": null}
      }
    },
    {
      "data": {"name": "curves"},
      "transform": [{"filter": "datum.fam === 'g1'"}],
      "mark": {"type": "line", "color": "#7c7c7c", "opacity": 0.6, "strokeWidth": 5.5, "strokeJoin": "round"},
      "encoding": {
        "x": {"field": "a", "type": "quantitative", "axis": null},
        "y": {"field": "e", "type": "quantitative", "axis": null},
        "detail": {"field": "c"},
        "order": {"value": null}
      }
    },
    {
      "data": {"name": "curves"},
      "transform": [{"filter": "datum.fam === 'p1'"}],
      "mark": {"type": "line", "color": "#f06a74", "opacity": 0.6, "strokeWidth": 5.5, "strokeJoin": "round"},
      "encoding": {
        "x": {"field": "a", "type": "quantitative", "axis": null},
        "y": {"field": "e", "type": "quantitative", "axis": null},
        "detail": {"field": "c"},
        "order": {"value": null}
      }
    },
    {
      "data": {"name": "legend"},
      "mark": {"type": "line", "strokeWidth": 9},
      "encoding": {
        "x": {"field": "a", "type": "quantitative", "axis": null},
        "y": {"field": "e", "type": "quantitative", "axis": null},
        "detail": {"field": "c"},
        "color": {"field": "fam", "type": "nominal", "legend": null,
          "scale": {"domain": ["p1", "g1", "b2", "k2", "x3"], "range": ["#f4a0a4", "#a9a9a9", "#5454ee", "#505050", "#8d66c2"]}}
      }
    },
    {
      "data": {"name": "labels"},
      "transform": [{"filter": "datum.s === 'bg'"}],
      "mark": {"type": "text", "font": "Lato", "fontSize": 52, "fontWeight": "bold", "color": "#c2c2c2", "align": "left", "baseline": "middle"},
      "encoding": {
        "x": {"field": "a", "type": "quantitative", "axis": null},
        "y": {"field": "e", "type": "quantitative", "axis": null},
        "text": {"field": "t"}
      }
    },
    {
      "data": {"name": "labels"},
      "transform": [{"filter": "datum.s === 'title'"}],
      "mark": {"type": "text", "font": "Lato", "fontSize": 54, "fontWeight": "bold", "color": "#000", "align": "left", "baseline": "middle"},
      "encoding": {
        "x": {"field": "a", "type": "quantitative", "axis": null},
        "y": {"field": "e", "type": "quantitative", "axis": null},
        "text": {"field": "t"}
      }
    },
    {
      "data": {"name": "labels"},
      "transform": [{"filter": "datum.s === 'leg1'"}],
      "mark": {"type": "text", "font": "Lato", "fontSize": 46, "color": "#555555", "align": "left", "baseline": "middle"},
      "encoding": {
        "x": {"field": "a", "type": "quantitative", "axis": null},
        "y": {"field": "e", "type": "quantitative", "axis": null},
        "text": {"field": "t"}
      }
    },
    {
      "data": {"name": "labels"},
      "transform": [{"filter": "datum.s === 'leg2'"}],
      "mark": {"type": "text", "font": "Lato", "fontSize": 46, "color": "#a9a9a9", "align": "left", "baseline": "middle"},
      "encoding": {
        "x": {"field": "a", "type": "quantitative", "axis": null},
        "y": {"field": "e", "type": "quantitative", "axis": null},
        "text": {"field": "t"}
      }
    },
    {
      "data": {"name": "labels"},
      "transform": [{"filter": "datum.s === 'ring'"}],
      "mark": {"type": "text", "font": "Lato", "fontSize": 47, "fontWeight": "bold", "color": "#5cc85c", "align": "center", "baseline": "middle"},
      "encoding": {
        "x": {"field": "a", "type": "quantitative", "axis": null},
        "y": {"field": "e", "type": "quantitative", "axis": null},
        "text": {"field": "t"}
      }
    },
    {
      "data": {"name": "labels"},
      "transform": [{"filter": "datum.s === 'body'"}],
      "mark": {"type": "text", "font": "Lato", "fontSize": 46, "fontWeight": "bold", "color": "#f1a475", "align": "center", "baseline": "middle"},
      "encoding": {
        "x": {"field": "a", "type": "quantitative", "axis": null},
        "y": {"field": "e", "type": "quantitative", "axis": null},
        "text": {"field": "t"}
      }
    },
    {
      "data": {"name": "labels"},
      "transform": [{"filter": "datum.s === 'corot'"}],
      "mark": {"type": "text", "font": "Lato", "fontSize": 47, "fontWeight": "bold", "color": "#b8b8b8", "align": "center", "baseline": "middle"},
      "encoding": {
        "x": {"field": "a", "type": "quantitative", "axis": null},
        "y": {"field": "e", "type": "quantitative", "axis": null},
        "text": {"field": "t"}
      }
    },
    {
      "data": {"name": "res"},
      "mark": {"type": "text", "font": "Lato", "fontSize": 46, "fontWeight": "bold", "align": "center", "baseline": "middle"},
      "encoding": {
        "x": {"field": "a", "type": "quantitative", "axis": null},
        "y": {"field": "e", "type": "quantitative", "axis": null},
        "text": {"field": "t"},
        "color": {"field": "fam", "type": "nominal", "legend": null,
          "scale": {"domain": ["p1", "g1", "b2", "k2", "x3"], "range": ["#f4a0a4", "#a9a9a9", "#5454ee", "#505050", "#8d66c2"]}}
      }
    },
    {
      "data": {"name": "labels"},
      "transform": [{"filter": "datum.s === 'ytitle'"}],
      "mark": {"type": "text", "font": "Lato", "fontSize": 46, "color": "#333333", "angle": 270, "align": "left", "baseline": "middle"},
      "encoding": {
        "x": {"field": "a", "type": "quantitative", "axis": null},
        "y": {"field": "e", "type": "quantitative", "axis": null},
        "text": {"field": "t"}
      }
    },
    {
      "data": {"name": "labels"},
      "transform": [{"filter": "datum.s === 'ysym'"}],
      "mark": {"type": "text", "font": "Lato", "fontSize": 50, "fontStyle": "italic", "color": "#333333", "angle": 270, "align": "left", "baseline": "middle"},
      "encoding": {
        "x": {"field": "a", "type": "quantitative", "axis": null},
        "y": {"field": "e", "type": "quantitative", "axis": null},
        "text": {"field": "t"}
      }
    },
    {
      "data": {"name": "labels"},
      "transform": [{"filter": "datum.s === 'ysub'"}],
      "mark": {"type": "text", "font": "Lato", "fontSize": 31, "color": "#333333", "angle": 270, "align": "left", "baseline": "middle"},
      "encoding": {
        "x": {"field": "a", "type": "quantitative", "axis": null},
        "y": {"field": "e", "type": "quantitative", "axis": null},
        "text": {"field": "t"}
      }
    },
    {
      "data": {"name": "labels"},
      "transform": [{"filter": "datum.s === 'xtitle'"}],
      "mark": {"type": "text", "font": "Lato", "fontSize": 47, "color": "#333333", "align": "center", "baseline": "middle"},
      "encoding": {
        "x": {"field": "a", "type": "quantitative", "axis": null},
        "y": {"field": "e", "type": "quantitative", "axis": null},
        "text": {"field": "t"}
      }
    }
  ]
}
